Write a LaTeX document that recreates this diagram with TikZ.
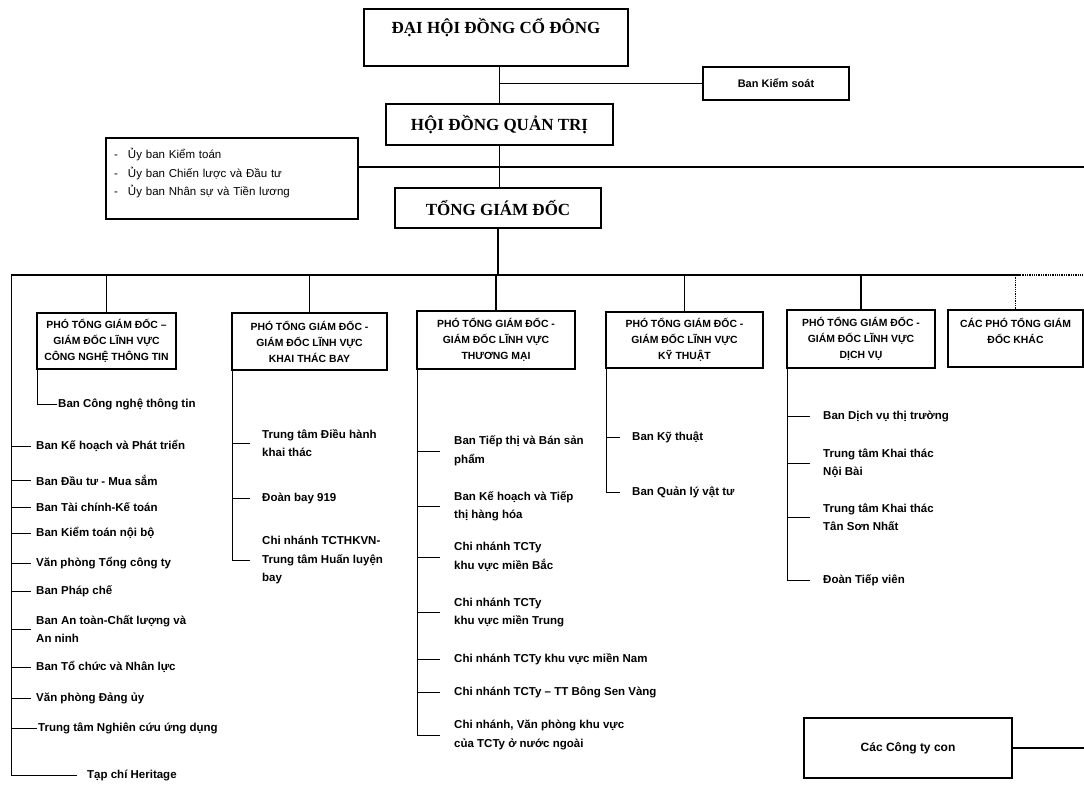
\documentclass[tikz,border=0pt]{standalone}
\usepackage{fontspec}
\setmainfont{Liberation Serif}
\newfontfamily\orgsans{Liberation Sans}
\begin{document}
\begin{tikzpicture}[x=1pt, y=-1pt]

\tikzstyle{topbox}=[rectangle, draw, line width=1.5pt, align=center, font=\bfseries\fontsize{17}{20}\selectfont]
\tikzstyle{vicebox}=[rectangle, draw, line width=1.5pt, align=center, inner sep=2pt, font=\orgsans\bfseries\fontsize{10.4}{16}\selectfont]
\tikzstyle{smallbox}=[rectangle, draw, line width=1.2pt, font=\orgsans\bfseries\fontsize{11}{14}\selectfont]
\tikzstyle{item}=[anchor=west, inner sep=0pt, align=left, font=\orgsans\bfseries\fontsize{11.5}{18.5}\selectfont]
\tikzstyle{main}=[line width=1.3pt]
\tikzstyle{sub}=[line width=0.8pt]

\useasboundingbox (0,0) rectangle (1084,797);

\node (dhdcd) [topbox, minimum width=264pt, minimum height=57pt] at (496,37.5) {ĐẠI HỘI ĐỒNG CỔ ĐÔNG\\[4pt]\mbox{}};
\node (bks) [smallbox, minimum width=146pt, minimum height=33pt] at (776,83.5) {Ban Kiểm soát};
\node (hdqt) [topbox, minimum width=227pt, minimum height=41pt] at (499.5,124.5) {HỘI ĐỒNG QUẢN TRỊ};
\node (uyban) [rectangle, draw, line width=1.5pt, text width=236pt, inner xsep=8pt, minimum height=81pt, align=left, font=\orgsans\fontsize{11.5}{18.5}\selectfont] at (232,178.5) {\makebox[14pt][l]{-}Ủy ban Kiểm toán\\
\makebox[14pt][l]{-}Ủy ban Chiến lược và Đầu tư\\
\makebox[14pt][l]{-}Ủy ban Nhân sự và Tiền lương\\[-6pt]\mbox{}};
\node (tgd) [topbox, minimum width=206pt, minimum height=40pt] at (498,208) {TỔNG GIÁM ĐỐC};

\node (cntt) [vicebox, minimum width=139pt, minimum height=56pt] at (106.5,341) {PHÓ TỔNG GIÁM ĐỐC –\\GIÁM ĐỐC LĨNH VỰC\\CÔNG NGHỆ THÔNG TIN};
\node (ktb) [vicebox, minimum width=155pt, minimum height=57pt] at (309.5,341.5) {PHÓ TỔNG GIÁM ĐỐC -\\GIÁM ĐỐC LĨNH VỰC\\KHAI THÁC BAY};
\node (tm) [vicebox, minimum width=158pt, minimum height=58pt] at (496,340) {PHÓ TỔNG GIÁM ĐỐC -\\GIÁM ĐỐC LĨNH VỰC\\THƯƠNG MẠI};
\node (kt) [vicebox, minimum width=157pt, minimum height=56pt] at (684.5,340) {PHÓ TỔNG GIÁM ĐỐC -\\GIÁM ĐỐC LĨNH VỰC\\KỸ THUẬT};
\node (dv) [vicebox, minimum width=148pt, minimum height=58pt] at (861,339) {PHÓ TỔNG GIÁM ĐỐC -\\GIÁM ĐỐC LĨNH VỰC\\DỊCH VỤ};
\node (khac) [vicebox, minimum width=135pt, minimum height=57pt] at (1015.5,338.5) {CÁC PHÓ TỔNG GIÁM\\ĐỐC KHÁC\\\mbox{}};
\node (ctycon) [smallbox, minimum width=208pt, minimum height=60pt, font=\orgsans\bfseries\fontsize{12}{14}\selectfont] at (908,748) {Các Công ty con};

\coordinate (busL) at (11,275);
\coordinate (busE) at (1020,275);
\coordinate (busR) at (1084,275);
\coordinate (hdqtR) at (1084,167);

\draw [main] (hdqt.north |- dhdcd.south) -- (hdqt.north);
\draw [main] (hdqt.north |- bks.west) -- (bks.west);
\draw [main] (hdqt.south) -- (hdqt.south |- tgd.north);
\draw [main] (uyban.east |- hdqtR) -- (hdqtR);
\draw [main] (tgd.south) -- (tgd.south |- busL);
\draw [main] (busL) -- (busE);
\draw [main, densely dotted] (busE) -- (busR);
\draw [main] (cntt.north |- busL) -- (cntt.north);
\draw [main] (ktb.north |- busL) -- (ktb.north);
\draw [main] (tm.north |- busL) -- (tm.north);
\draw [main] (kt.north |- busL) -- (kt.north);
\draw [main] (dv.north |- busL) -- (dv.north);
\draw [main, densely dotted] (khac.north |- busL) -- (khac.north);
\draw [main] (ctycon.east) -- (ctycon.east -| busR);

\node (kh) [item] at (36,446) {Ban Kế hoạch và Phát triển};
\node (dt) [item] at (36,480) {Ban Đầu tư - Mua sắm};
\node (tckt) [item] at (36,507) {Ban Tài chính-Kế toán};
\node (ktnb) [item] at (36,533) {Ban Kiểm toán nội bộ};
\node (vptct) [item] at (36,563) {Văn phòng Tổng công ty};
\node (pc) [item] at (36,591) {Ban Pháp chế};
\node (atcl) [item] at (36,629) {Ban An toàn-Chất lượng và\\An ninh};
\node (tcnl) [item] at (36,667) {Ban Tổ chức và Nhân lực};
\node (vpdu) [item] at (36,698) {Văn phòng Đảng ủy};
\node (ncud) [item] at (38,728) {Trung tâm Nghiên cứu ứng dụng};
\node (hr) [item] at (87,775) {Tạp chí Heritage};

\draw [sub] (busL) |- ([xshift=-10pt]hr.west);
\draw [sub] (busL |- kh.west) -- ([xshift=-5pt]kh.west);
\draw [sub] (busL |- dt.west) -- ([xshift=-5pt]dt.west);
\draw [sub] (busL |- tckt.west) -- ([xshift=-5pt]tckt.west);
\draw [sub] (busL |- ktnb.west) -- ([xshift=-5pt]ktnb.west);
\draw [sub] (busL |- vptct.west) -- ([xshift=-5pt]vptct.west);
\draw [sub] (busL |- pc.west) -- ([xshift=-5pt]pc.west);
\draw [sub] (busL |- atcl.west) -- ([xshift=-5pt]atcl.west);
\draw [sub] (busL |- tcnl.west) -- ([xshift=-5pt]tcnl.west);
\draw [sub] (busL |- vpdu.west) -- ([xshift=-5pt]vpdu.west);
\draw [sub] (busL |- ncud.west) -- ([xshift=-1pt]ncud.west);

\node (cntin) [item] at (58,404) {Ban Công nghệ thông tin};
\coordinate (cnttbar) at ([xshift=1pt]cntt.south west);
\draw [sub] (cnttbar) |- ([xshift=-1pt]cntin.west);

\node (dhkt) [item] at (262,443) {Trung tâm Điều hành\\khai thác};
\node (db) [item] at (262,498) {Đoàn bay 919};
\node (hlb) [item] at (262,560) {Chi nhánh TCTHKVN-\\Trung tâm Huấn luyện\\bay};
\coordinate (ktbbar) at ([xshift=1pt]ktb.south west);
\draw [sub] (ktbbar |- dhkt.west) -- ([xshift=-12pt]dhkt.west);
\draw [sub] (ktbbar |- db.west) -- ([xshift=-12pt]db.west);
\draw [sub] (ktbbar) |- ([xshift=-12pt]hlb.west);

\node (tt) [item] at (454,451) {Ban Tiếp thị và Bán sản\\phẩm};
\node (khtt) [item] at (454,506.5) {Ban Kế hoạch và Tiếp\\thị hàng hóa};
\node (cnmb) [item] at (454,557) {Chi nhánh TCTy\\khu vực miền Bắc};
\node (cnmt) [item] at (454,612.5) {Chi nhánh TCTy\\khu vực miền Trung};
\node (cnmn) [item] at (454,659) {Chi nhánh TCTy khu vực miền Nam};
\node (bsv) [item] at (454,692) {Chi nhánh TCTy – TT Bông Sen Vàng};
\node (nn) [item] at (454,735) {Chi nhánh, Văn phòng\ khu vực\\của TCTy\ ở nước ngoài};
\coordinate (tmbar) at ([xshift=1pt]tm.south west);
\draw [sub] (tmbar |- tt.west) -- ([xshift=-14pt]tt.west);
\draw [sub] (tmbar |- khtt.west) -- ([xshift=-14pt]khtt.west);
\draw [sub] (tmbar |- cnmb.west) -- ([xshift=-14pt]cnmb.west);
\draw [sub] (tmbar |- cnmt.west) -- ([xshift=-14pt]cnmt.west);
\draw [sub] (tmbar |- cnmn.west) -- ([xshift=-14pt]cnmn.west);
\draw [sub] (tmbar |- bsv.west) -- ([xshift=-14pt]bsv.west);
\draw [sub] (tmbar) |- ([xshift=-14pt]nn.west);

\node (kythuat) [item] at (632,437) {Ban Kỹ thuật};
\node (qlvt) [item] at (632,492) {Ban Quản lý vật tư};
\coordinate (ktbar) at ([xshift=1pt]kt.south west);
\draw [sub] (ktbar |- kythuat.west) -- ([xshift=-12pt]kythuat.west);
\draw [sub] (ktbar) |- ([xshift=-12pt]qlvt.west);

\node (dvtt) [item] at (823,416) {Ban Dịch vụ thị trường};
\node (nb) [item] at (823,463) {Trung tâm Khai thác\\Nội Bài};
\node (tsn) [item] at (823,517.5) {Trung tâm Khai thác\\Tân Sơn Nhất};
\node (tv) [item] at (823,580) {Đoàn Tiếp viên};
\coordinate (dvbar) at ([xshift=1pt]dv.south west);
\draw [sub] (dvbar |- dvtt.west) -- ([xshift=-13pt]dvtt.west);
\draw [sub] (dvbar |- nb.west) -- ([xshift=-13pt]nb.west);
\draw [sub] (dvbar |- tsn.west) -- ([xshift=-13pt]tsn.west);
\draw [sub] (dvbar) |- ([xshift=-13pt]tv.west);

\end{tikzpicture}
\end{document}
